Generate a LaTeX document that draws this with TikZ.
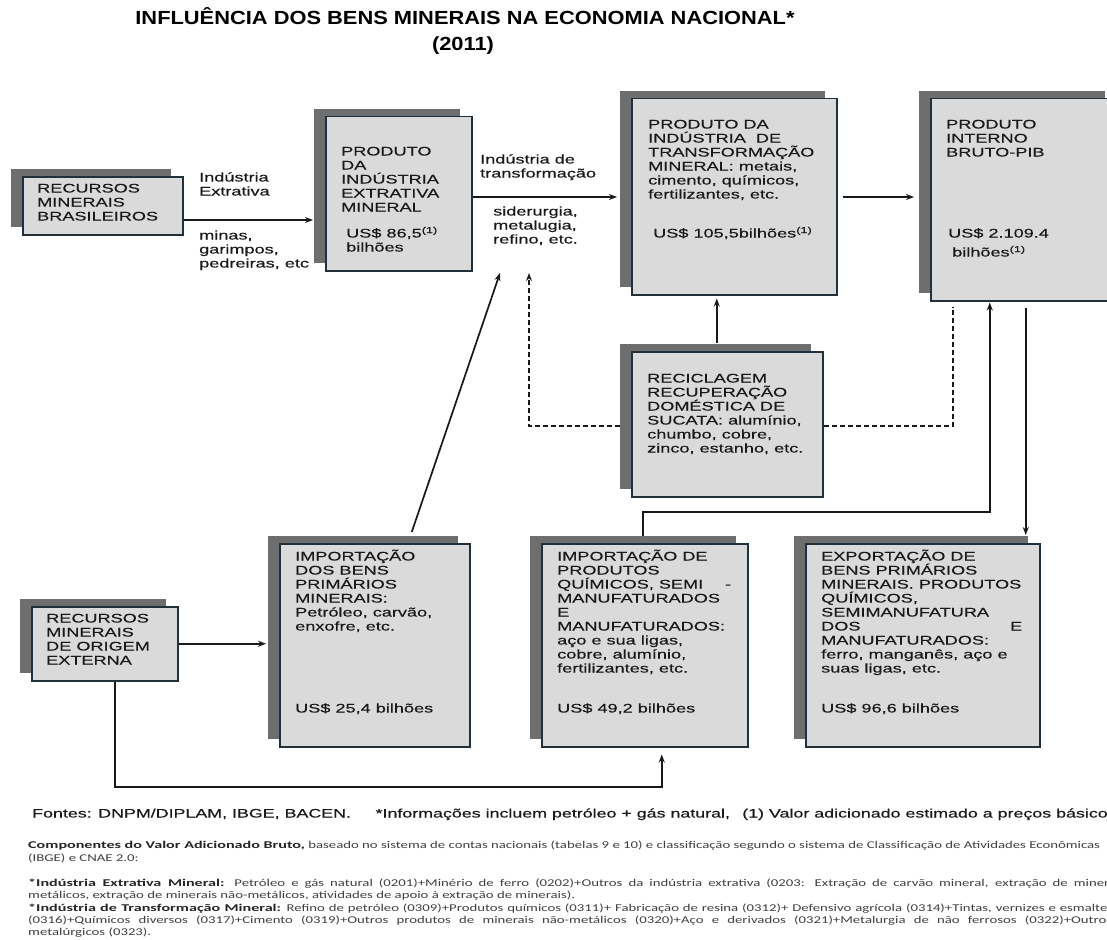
\documentclass[tikz,border=0pt]{standalone}
\usepackage{fontspec}
\setmainfont{Liberation Sans}
\newfontfamily\boxfont[FakeStretch=1.45, FakeBold=0.3]{Liberation Sans}
\newfontfamily\titlefont[FakeStretch=1.15]{Liberation Sans}
\newfontfamily\notefont[FakeStretch=1.42, BoldFeatures={FakeStretch=1.55}]{Carlito}
\usetikzlibrary{arrows.meta,shadows}

\definecolor{boxgray}{HTML}{DADADA}
\definecolor{shadegray}{HTML}{6E6E6E}
\definecolor{edgeblue}{HTML}{22303A}
\definecolor{notegray}{HTML}{404040}

\tikzset{
  mainbox/.style={rectangle, fill=boxgray, draw=edgeblue, line width=1.5pt,
    inner sep=0pt, anchor=north west,
    copy shadow={shadow xshift=-12pt, shadow yshift=8pt, fill=shadegray, draw=none}},
  boxtext/.style={inner sep=0pt, anchor=base west, text=black!90,
    font=\boxfont\fontsize{12.5}{14}\selectfont},
  foottext/.style={inner sep=0pt, anchor=base west, text=black!90,
    font=\boxfont\fontsize{12.3}{14}\selectfont},
  notetext/.style={inner sep=0pt, anchor=base west, text=notegray,
    font=\notefont\fontsize{10.4}{12.4}\selectfont},
  titletext/.style={inner sep=0pt, anchor=base, text=black,
    font=\titlefont\bfseries\fontsize{19}{22}\selectfont},
  arr/.style={-{Stealth[length=8pt,width=6pt]}, line width=1.7pt, draw=black!90},
  dashln/.style={dash pattern=on 5pt off 3pt, line width=1.5pt, draw=black!90},
  dasharr/.style={dashln, -{Stealth[length=8pt,width=6pt]}}
}

\begin{document}
\begin{tikzpicture}[x=1pt,y=-1pt]
\useasboundingbox (0,0) rectangle (1107,939);
\fill[white] (0,0) rectangle (1107,939);
\clip (0,0) rectangle (1107,939);

% titulo
\node[titletext] (ttl) at (465,24.5) {INFLUÊNCIA DOS BENS MINERAIS NA ECONOMIA NACIONAL*};
\node[titletext] (ttlyear) at (463,51) {(2011)};

% caixas
\node[mainbox, minimum width=160pt, minimum height=58pt] (recbr) at (22,176) {};
\node[mainbox, minimum width=146pt, minimum height=154pt] (prodext) at (325,116) {};
\node[mainbox, minimum width=205pt, minimum height=196pt] (prodtra) at (631,98) {};
\node[mainbox, minimum width=186pt, minimum height=202pt] (pib) at (930,98) {};
\node[mainbox, minimum width=191pt, minimum height=145pt] (recic) at (631,351) {};
\node[mainbox, minimum width=146pt, minimum height=74pt] (recext) at (31,606) {};
\node[mainbox, minimum width=190pt, minimum height=203pt] (impbens) at (279,543) {};
\node[mainbox, minimum width=206pt, minimum height=203pt] (impquim) at (541,543) {};
\node[mainbox, minimum width=234pt, minimum height=203pt] (expo) at (805,543) {};

% textos das caixas
\node[boxtext] (recbrtx) at (37,192.5) {\parbox[t]{150pt}{RECURSOS\\MINERAIS\\BRASILEIROS}};
\node[boxtext] (prodexttx) at (341,155.5) {\parbox[t]{140pt}{PRODUTO\\DA\\INDÚSTRIA\\EXTRATIVA\\MINERAL}};
\node[boxtext] (prodextval) at (346,237.5) {\parbox[t]{140pt}{US\$ 86,5\textsuperscript{(1)}\\bilhões}};
\node[boxtext] (prodtratx) at (648,128.5) {\parbox[t]{200pt}{PRODUTO DA\\INDÚSTRIA\ \ DE\\TRANSFORMAÇÃO\\MINERAL: metais,\\cimento, químicos,\\fertilizantes, etc.}};
\node[boxtext] (prodtraval) at (653,237.5) {US\$ 105,5bilhões\textsuperscript{(1)}};
\node[boxtext] (pibtx) at (946,128.5) {\parbox[t]{160pt}{PRODUTO\\INTERNO\\BRUTO-PIB}};
\node[boxtext] (pibval) at (948,237.5) {US\$ 2.109.4};
\node[boxtext] (pibunit) at (952,256.5) {bilhões\textsuperscript{(1)}};
\node[boxtext] (recictx) at (647,382.5) {\parbox[t]{200pt}{RECICLAGEM\\RECUPERAÇÃO\\DOMÉSTICA DE\\SUCATA: alumínio,\\chumbo, cobre,\\zinco, estanho, etc.}};
\node[boxtext] (recexttx) at (46,622.5) {\parbox[t]{140pt}{RECURSOS\\MINERAIS\\DE ORIGEM\\EXTERNA}};
\node[boxtext] (impbenstx) at (295,560.5) {\parbox[t]{200pt}{IMPORTAÇÃO\\DOS BENS\\PRIMÁRIOS\\MINERAIS:\\Petróleo, carvão,\\enxofre, etc.}};
\node[boxtext] (impbensval) at (295,712.5) {US\$ 25,4 bilhões};
\node[boxtext] (impquimtx) at (557,560.5) {\parbox[t]{230pt}{IMPORTAÇÃO DE\\PRODUTOS\\\makebox[174pt][l]{QUÍMICOS, SEMI\hfill-}\\MANUFATURADOS\\E\\MANUFATURADOS:\\aço e sua ligas,\\cobre, alumínio,\\fertilizantes, etc.}};
\node[boxtext] (impquimval) at (557,712.5) {US\$ 49,2 bilhões};
\node[boxtext] (expotx) at (821,560.5) {\parbox[t]{260pt}{EXPORTAÇÃO DE\\BENS PRIMÁRIOS\\MINERAIS. PRODUTOS\\QUÍMICOS,\\SEMIMANUFATURA\\\makebox[201pt][l]{DOS\hfill E}\\MANUFATURADOS:\\ferro, manganês, aço e\\suas ligas, etc.}};
\node[boxtext] (expoval) at (821,712.5) {US\$ 96,6 bilhões};

% rotulos das setas
\node[boxtext] (extlbl) at (199,181.5) {\parbox[t]{120pt}{Indústria\\Extrativa}};
\node[boxtext] (extex) at (199,239.5) {\parbox[t]{130pt}{minas,\\garimpos,\\pedreiras, etc}};
\node[boxtext] (tralbl) at (480,163.5) {\parbox[t]{130pt}{Indústria de\\transformação}};
\node[boxtext] (traex) at (493,215.5) {\parbox[t]{120pt}{siderurgia,\\metalugia,\\refino, etc.}};

% pontos soltos
\coordinate (sidtip) at (500,273);
\coordinate (dashtip) at (529,273);
\coordinate (pibin) at ([xshift=-34pt]pib.south);
\coordinate (pibout) at ([xshift=2pt]pib.south);
\coordinate (quimin) at ([xshift=17pt]impquim.south);

% setas
\draw[arr, shorten >=12pt] (recbr.east |- 0,220) -- (prodext.west |- 0,220);
\draw[arr, shorten >=14pt] (prodext.east |- 0,197) -- (prodtra.west |- 0,197);
\draw[arr, shorten <=5pt, shorten >=16pt] (prodtra.east |- 0,197) -- (pib.west |- 0,197);
\draw[arr, shorten >=3pt] ([xshift=-10.5pt, yshift=8pt]recic.north) -- ([xshift=-17.5pt]prodtra.south);
\draw[arr] ([xshift=37pt, yshift=11pt]impbens.north) -- (sidtip);
\draw[dasharr, shorten <=11pt] (recic.west |- 0,426) -| (dashtip);
\draw[dashln, shorten >=5pt] (recic.east |- 0,426) -| ([xshift=-71pt]pib.south);
\draw[arr, shorten >=1pt] ([xshift=-2pt, yshift=7pt]impquim.north) -- ++(0,-24) -| (pibin);
\draw[arr, shorten <=6pt, shorten >=8pt] (pibout) -- (pibout |- expo.north);
\draw[arr, shorten >=13pt] (recext.east) -- (recext.east -| impbens.west);
\draw[arr, shorten >=7pt] ([xshift=10pt]recext.south) |- (quimin |- 0,787) -- (quimin);

% notas
\node[foottext] (fontes) at (32,817.5) {Fontes: DNPM/DIPLAM, IBGE, BACEN.\hspace{2em}*Informações incluem petróleo + gás natural,\hspace{1em}(1) Valor adicionado estimado a preços básicos};
\node[notetext] (compo) at (28,848.5) {\textbf{\color{black!85}Componentes do Valor Adicionado Bruto,} baseado no sistema de contas nacionais (tabelas 9 e 10) e classificação segundo o sistema de Classificação de Atividades Econômicas};
\node[notetext] (ibge) at (28,861) {(IBGE) e CNAE 2.0:};
\node[notetext] (extnota) at (28,886.5) {\makebox[1097pt][s]{\textbf{\color{black!85}*Indústria Extrativa Mineral:} Petróleo e gás natural (0201)+Minério de ferro (0202)+Outros da indústria extrativa (0203: Extração de carvão mineral, extração de minerais}};
\node[notetext] (extnota2) at (28,898.5) {metálicos, extração de minerais não-metálicos, atividades de apoio à extração de minerais).};
\node[notetext] (tranota) at (28,911) {\makebox[1085pt][s]{\textbf{\color{black!85}*Indústria de Transformação Mineral:} Refino de petróleo (0309)+Produtos químicos (0311)+ Fabricação de resina (0312)+ Defensivo agrícola (0314)+Tintas, vernizes e esmaltes}};
\node[notetext] (tranota2) at (28,923) {\makebox[1084pt][s]{(0316)+Químicos diversos (0317)+Cimento (0319)+Outros produtos de minerais não-metálicos (0320)+Aço e derivados (0321)+Metalurgia de não ferrosos (0322)+Outros}};
\node[notetext] (tranota3) at (28,935.5) {metalúrgicos (0323).};
\end{tikzpicture}
\end{document}
